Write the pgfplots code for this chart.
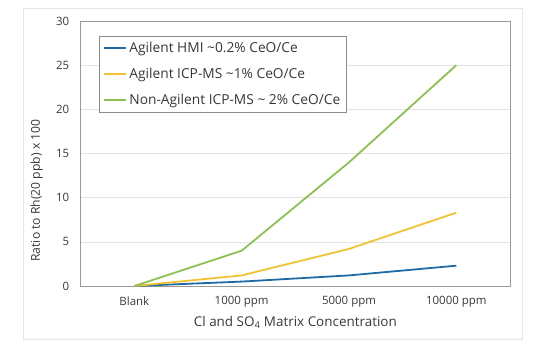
\documentclass[border=0pt]{standalone}
\usepackage{fontspec}
\setmainfont{Open Sans}
\usepackage{pgfplots}
\pgfplotsset{compat=1.18}
\definecolor{cblue}{HTML}{1F6AA5}
\definecolor{cyellow}{HTML}{F2C232}
\definecolor{cgreen}{HTML}{8CC152}
\definecolor{gridc}{HTML}{E3E3E3}
\definecolor{framec}{HTML}{E6E6E6}
\definecolor{txt}{HTML}{383838}
\begin{document}
\begin{tikzpicture}
\path[use as bounding box] (-80.7bp,-65bp) rectangle (460.3bp,286bp);
\draw[framec, line width=0.8pt] (-57.7bp,-53bp) rectangle (441.3bp,278bp);
\begin{axis}[
  at={(0,0)}, anchor=south west,
  scale only axis, width=429.3bp, height=265bp,
  xmin=-0.5, xmax=3.5, ymin=0, ymax=30,
  xtick={0,1,2,3},
  xticklabels={Blank,1000 ppm,5000 ppm,10000 ppm},
  ytick={0,5,...,30},
  major tick length=0pt,
  ymajorgrids, grid style={gridc, line width=0.6pt},
  axis line style={gray!80, line width=0.7pt},
  tick label style={font=\fontsize{11.5}{13}\selectfont, text=txt},
  xticklabel style={yshift=-7pt},
  yticklabel style={xshift=-8pt},
  /pgf/number format/assume math mode=true,
  xlabel={Cl and SO\textsubscript{4} Matrix Concentration},
  ylabel={Ratio to Rh(20 ppb) x 100},
  label style={font=\fontsize{13.5}{15}\selectfont, text=txt},
  xlabel style={yshift=-2pt},
  ylabel style={at={(rel axis cs:0,0.36)}, anchor=center, yshift=44bp, font=\fontsize{12.2}{14}\selectfont},
  legend style={at={(rel axis cs:0.0426,0.943)}, anchor=north west,
     draw=gray!90, line width=0.6pt, font=\fontsize{13.8}{16}\selectfont, text=txt,
     row sep=10pt, inner sep=4pt},
  legend cell align=left,
  legend image code/.code={\draw[#1, line width=2.2pt] (0bp,0bp) -- (22bp,0bp);},
  every axis plot/.append style={line width=1.8pt},
]
\addplot[cblue] coordinates {(0,0) (1,0.5) (2,1.2) (3,2.3)};
\addlegendentry{Agilent HMI \textasciitilde0.2\% CeO/Ce}
\addplot[cyellow] coordinates {(0,0) (1,1.2) (2,4.2) (3,8.3)};
\addlegendentry{Agilent ICP-MS \textasciitilde1\% CeO/Ce}
\addplot[cgreen] coordinates {(0,0) (1,4.0) (2,14) (3,25)};
\addlegendentry{Non-Agilent ICP-MS \textasciitilde\ 2\% CeO/Ce}
\end{axis}
\end{tikzpicture}
\end{document}
